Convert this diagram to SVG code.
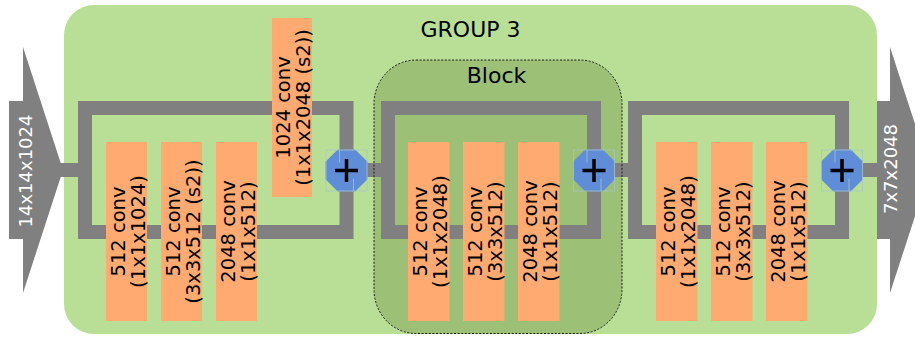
<svg xmlns="http://www.w3.org/2000/svg" xmlns:xlink="http://www.w3.org/1999/xlink" width="915" height="337" viewBox="0 0 915 337">
<style>
  .grp { fill: #b9df96; }
  .blk { fill: #9cc076; }
  .blkborder { fill: none; stroke: #1a1a1a; stroke-width: 1; stroke-dasharray: 2 1.6; }
  .conn { fill: none; stroke: #808080; stroke-width: 14; stroke-linejoin: miter; }
  .box { fill: #ffaa71; }
  .lbl { font-family: "DejaVu Sans", "Liberation Sans", sans-serif; font-size: 19.5px; fill: #000; text-anchor: middle; }
  .title { font-family: "DejaVu Sans", "Liberation Sans", sans-serif; font-size: 22px; fill: #000; text-anchor: middle; }
  .arrow { fill: #808080; }
  .arrtxt { font-family: "DejaVu Sans", "Liberation Sans", sans-serif; font-size: 18px; fill: #ffffff; text-anchor: middle; }
  .oct { fill: #5f8dd7; }
  .plus { stroke: #000; stroke-width: 3.5; fill: none; }
  .faint { fill: none; stroke: #a6c6c4; stroke-width: 1; opacity: 0.8; }
</style>
<defs>
  <g id="adder">
    <polygon class="oct" points="-8.7,-21 8.7,-21 21,-8.7 21,8.7 8.7,21 -8.7,21 -21,8.7 -21,-8.7"/>
    <rect class="faint" x="-20.5" y="-20.5" width="41" height="41"/>
    <line class="faint" x1="-7" y1="-20.5" x2="-7" y2="-8"/>
    <line class="faint" x1="7" y1="8" x2="7" y2="20.5"/>
    <path class="plus" d="M -11.5 0 H 11.5 M 0 -11.5 V 11.5"/>
  </g>
</defs>

<g id="group3">
  <rect class="grp" x="64" y="5" width="813" height="329" rx="30" ry="30"/>
  <text class="title" x="470.5" y="37">GROUP 3</text>
</g>

<g id="block-bg">
  <rect class="blk" x="374" y="60" width="248" height="273.5" rx="42" ry="44"/>
</g>

<g id="connectors">
  <rect class="conn" x="85" y="108" width="261.5" height="124"/>
  <rect class="conn" x="388" y="108" width="206" height="124"/>
  <rect class="conn" x="635" y="108" width="207" height="124"/>
  <path class="conn" d="M 60 170 H 85"/>
  <path class="conn" d="M 346.5 170 H 388"/>
  <path class="conn" d="M 594 170 H 635"/>
  <path class="conn" d="M 842 170 H 880"/>
</g>

<g id="block">
  <rect class="blkborder" x="374" y="60" width="248" height="273.5" rx="42" ry="44"/>
  <text class="title" x="496.5" y="83">Block</text>
</g>

<g id="g3-conv-a">
  <rect class="box" x="106" y="142" width="41" height="179"/>
  <text class="lbl" transform="rotate(-90 126.5 231.5)" x="126.5" y="229.8">512 conv</text>
  <text class="lbl" transform="rotate(-90 126.5 231.5)" x="126.5" y="249.5">(1x1x1024)</text>
</g>
<g id="g3-conv-b">
  <rect class="box" x="161" y="142" width="41" height="179"/>
  <text class="lbl" transform="rotate(-90 181.5 231.5)" x="181.5" y="229.8">512 conv</text>
  <text class="lbl" transform="rotate(-90 181.5 231.5)" x="181.5" y="249.5">(3x3x512 (s2))</text>
</g>
<g id="g3-conv-c">
  <rect class="box" x="216" y="142" width="41" height="179"/>
  <text class="lbl" transform="rotate(-90 236.5 231.5)" x="236.5" y="229.8">2048 conv</text>
  <text class="lbl" transform="rotate(-90 236.5 231.5)" x="236.5" y="249.5">(1x1x512)</text>
</g>
<g id="g3-shortcut">
  <rect class="box" x="272" y="18" width="40" height="179"/>
  <text class="lbl" transform="rotate(-90 292 107.5)" x="292" y="105.8">1024 conv</text>
  <text class="lbl" transform="rotate(-90 292 107.5)" x="292" y="125.5">(1x1x2048 (s2))</text>
</g>

<g id="blk-conv-a">
  <rect class="box" x="408" y="142" width="41.5" height="179"/>
  <text class="lbl" transform="rotate(-90 428.8 231.5)" x="428.8" y="229.8">512 conv</text>
  <text class="lbl" transform="rotate(-90 428.8 231.5)" x="428.8" y="249.5">(1x1x2048)</text>
</g>
<g id="blk-conv-b">
  <rect class="box" x="463" y="142" width="41.5" height="179"/>
  <text class="lbl" transform="rotate(-90 483.8 231.5)" x="483.8" y="229.8">512 conv</text>
  <text class="lbl" transform="rotate(-90 483.8 231.5)" x="483.8" y="249.5">(3x3x512)</text>
</g>
<g id="blk-conv-c">
  <rect class="box" x="518" y="142" width="41.5" height="179"/>
  <text class="lbl" transform="rotate(-90 538.8 231.5)" x="538.8" y="229.8">2048 conv</text>
  <text class="lbl" transform="rotate(-90 538.8 231.5)" x="538.8" y="249.5">(1x1x512)</text>
</g>

<g id="last-conv-a">
  <rect class="box" x="656" y="142" width="41.5" height="179"/>
  <text class="lbl" transform="rotate(-90 676.8 231.5)" x="676.8" y="229.8">512 conv</text>
  <text class="lbl" transform="rotate(-90 676.8 231.5)" x="676.8" y="249.5">(1x1x2048)</text>
</g>
<g id="last-conv-b">
  <rect class="box" x="711" y="142" width="41.5" height="179"/>
  <text class="lbl" transform="rotate(-90 731.8 231.5)" x="731.8" y="229.8">512 conv</text>
  <text class="lbl" transform="rotate(-90 731.8 231.5)" x="731.8" y="249.5">(3x3x512)</text>
</g>
<g id="last-conv-c">
  <rect class="box" x="766" y="142" width="41.5" height="179"/>
  <text class="lbl" transform="rotate(-90 786.8 231.5)" x="786.8" y="229.8">2048 conv</text>
  <text class="lbl" transform="rotate(-90 786.8 231.5)" x="786.8" y="249.5">(1x1x512)</text>
</g>

<g id="add-1"><use xlink:href="#adder" href="#adder" transform="translate(346.5 170.5)"/></g>
<g id="add-2"><use xlink:href="#adder" href="#adder" transform="translate(594 170.5)"/></g>
<g id="add-3"><use xlink:href="#adder" href="#adder" transform="translate(842 170.5)"/></g>

<g id="input">
  <polygon class="arrow" points="9,101 23,101 23,47 63,170 23,293 23,239 9,239"/>
  <text class="arrtxt" transform="rotate(-90 25 171)" x="25" y="177.5">14x14x1024</text>
</g>
<g id="output">
  <polygon class="arrow" points="877,101 890,101 890,47 930,170 890,293 890,239 877,239"/>
  <text class="arrtxt" transform="rotate(-90 890 169)" x="890" y="175.5">7x7x2048</text>
</g>
</svg>
